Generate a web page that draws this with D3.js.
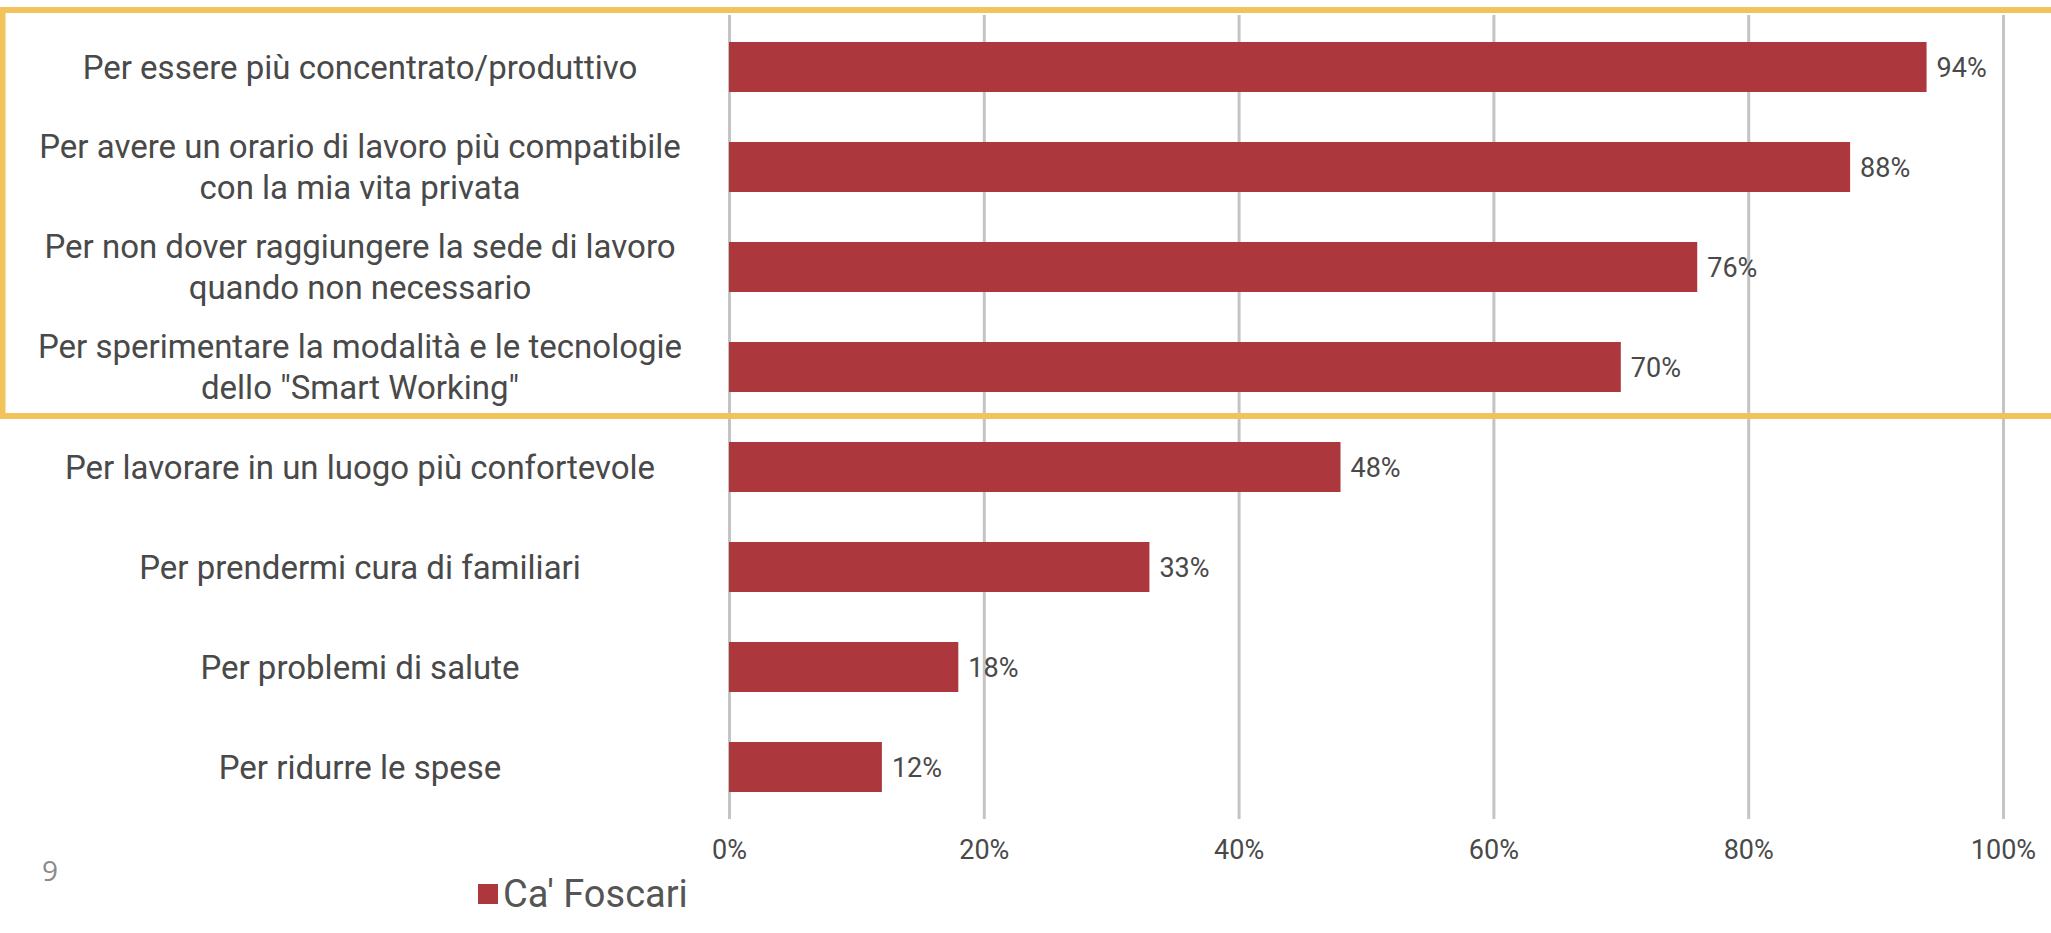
<!DOCTYPE html>
<html lang="it">
<head>
<meta charset="utf-8">
<title>Motivazioni – Ca' Foscari</title>
<script src="https://cdn.jsdelivr.net/npm/d3@7"></script>
<style>
  html, body { margin: 0; padding: 0; background: #ffffff; }
  svg { display: block; }
</style>
</head>
<body>
<svg id="chart" width="2051" height="933"></svg>
<script>
// Reasons given, one bar per reason ("\n" marks a line break in the label)
const categories = [
  "Per essere più concentrato/produttivo",
  "Per avere un orario di lavoro più compatibile\ncon la mia vita privata",
  "Per non dover raggiungere la sede di lavoro\nquando non necessario",
  "Per sperimentare la modalità e le tecnologie\ndello \"Smart Working\"",
  "Per lavorare in un luogo più confortevole",
  "Per prendermi cura di familiari",
  "Per problemi di salute",
  "Per ridurre le spese"
];
// Share of respondents (%)
const values = [94, 88, 76, 70, 48, 33, 18, 12];
const xTicks = [0, 20, 40, 60, 80, 100];
const seriesName = "Ca' Foscari";
const pageNumber = "9";

const W = 2051, H = 933;
const barColor = "#ac383d";
const textColor = "#494949";
const font = "Roboto, 'Liberation Sans', sans-serif";

const svg = d3.select("#chart");

const plot = { left: 729, right: 2003, top: 17, bottom: 817 };

const x = d3.scaleLinear().domain([0, 100]).range([plot.left, plot.right]);
const y = d3.scaleBand()
  .domain(categories)
  .range([plot.top, plot.bottom])
  .paddingInner(0.5)
  .paddingOuter(0.25);

// Vertical gridlines and percentage ticks
const axis = d3.axisBottom(x)
  .tickValues(xTicks)
  .tickFormat(d => d + "%")
  .tickSize(-(plot.bottom + 2 - (plot.top - 2)))
  .tickPadding(21);

const gAxis = svg.append("g")
  .attr("transform", `translate(0,${plot.bottom + 2})`)
  .call(axis);
gAxis.select(".domain").remove();
gAxis.selectAll(".tick line")
  .attr("stroke", "#c4c4c4")
  .attr("stroke-width", 3);
gAxis.selectAll(".tick text")
  .attr("fill", textColor)
  .style("font-family", font)
  .style("font-size", "27px");

// Bars
svg.append("g")
  .selectAll("rect")
  .data(values)
  .join("rect")
  .attr("x", x(0))
  .attr("y", (d, i) => y(categories[i]))
  .attr("width", d => x(d) - x(0))
  .attr("height", y.bandwidth())
  .attr("fill", barColor);

// Value labels at the end of each bar
svg.append("g")
  .selectAll("text")
  .data(values)
  .join("text")
  .attr("x", d => x(d) + 10)
  .attr("y", (d, i) => y(categories[i]) + y.bandwidth() / 2)
  .attr("dy", "0.36em")
  .attr("fill", textColor)
  .style("font-family", font)
  .style("font-size", "27px")
  .text(d => d + "%");

// Category labels, centred in the left column
const lineGap = 41;
const labels = svg.append("g")
  .selectAll("text")
  .data(categories)
  .join("text")
  .attr("text-anchor", "middle")
  .attr("fill", textColor)
  .style("font-family", font)
  .style("font-size", "33px");

labels.each(function (c) {
  const lines = c.split("\n");
  const cy = y(c) + y.bandwidth() / 2;
  const first = cy - (lines.length - 1) * lineGap / 2;
  d3.select(this).selectAll("tspan")
    .data(lines)
    .join("tspan")
    .attr("x", 360)
    .attr("y", (l, j) => first + j * lineGap)
    .attr("dy", "0.36em")
    .text(l => l);
});

// Highlight frame around the first four reasons
svg.append("rect")
  .attr("x", 2.5)
  .attr("y", 10)
  .attr("width", W + 20)
  .attr("height", 406)
  .attr("fill", "none")
  .attr("stroke", "#f2c35b")
  .attr("stroke-width", 6);

// Legend
const legend = svg.append("g");
legend.append("rect")
  .attr("x", 478).attr("y", 884)
  .attr("width", 20).attr("height", 20)
  .attr("fill", barColor);
legend.append("text")
  .attr("x", 503).attr("y", 907)
  .attr("fill", "#555555")
  .style("font-family", font)
  .style("font-size", "38px")
  .text(seriesName);

// Slide number
svg.append("text")
  .attr("x", 42).attr("y", 881)
  .attr("fill", "#8a8a8a")
  .style("font-family", "'Open Sans', sans-serif")
  .style("font-size", "28px")
  .text(pageNumber);
</script>
</body>
</html>
